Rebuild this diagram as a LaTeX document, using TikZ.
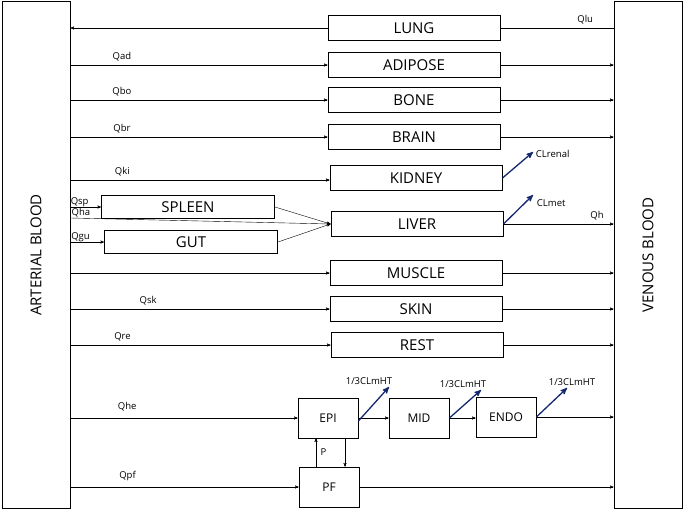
\documentclass[tikz,border=0pt]{standalone}
\usepackage{fontspec}
\setmainfont{Open Sans}
\usetikzlibrary{arrows}
\tikzstyle{blood} = [rectangle, draw=black, line width=1pt, minimum width=68pt, minimum height=506pt]
\tikzstyle{organ} = [rectangle, draw=black, line width=1pt, minimum width=172pt, minimum height=25pt, font=\fontsize{15}{15}\selectfont]
\tikzstyle{tissue} = [rectangle, draw=black, line width=0.8pt, minimum width=60pt, minimum height=40pt, font=\fontsize{12}{12}\selectfont]
\tikzstyle{flow} = [font=\fontsize{9.5}{9.5}\selectfont]
\tikzstyle{arrow} = [->,>=stealth', thin]
\tikzstyle{clear} = [->,>=stealth', line width=1.3pt, draw={rgb,255:red,20;green,40;blue,110}]
\begin{document}
\begin{tikzpicture}[x=1pt,y=-1pt]
	\useasboundingbox (0,0) rectangle (685,511);
	\node (art) [blood] at (36,255) {};
	\node [rotate=90, font=\fontsize{15}{15}\selectfont] at (36,255) {ARTERIAL BLOOD};
	\node (ven) [blood] at (648,255) {};
	\node [rotate=90, font=\fontsize{15}{15}\selectfont] at (648,255) {VENOUS BLOOD};
	\node (lung) [organ] at (414,28) {LUNG};
	\node (adipose) [organ] at (414,65) {ADIPOSE};
	\node (bone) [organ] at (414,100) {BONE};
	\node (brain) [organ] at (414,137) {BRAIN};
	\node (kidney) [organ] at (416,178) {KIDNEY};
	\node (spleen) [organ, minimum width=173pt, minimum height=23pt] at (188,207) {SPLEEN};
	\node (gut) [organ, minimum width=173pt, minimum height=23pt] at (191,242) {GUT};
	\node (liver) [organ] at (417,224) {LIVER};
	\node (muscle) [organ] at (416,273) {MUSCLE};
	\node (skin) [organ] at (416,309) {SKIN};
	\node (rest) [organ] at (417,345) {REST};
	\node (epi) [tissue] at (328,418) {EPI};
	\node (mid) [tissue] at (419,418) {MID};
	\node (endo) [tissue] at (506,417) {ENDO};
	\node (pf) [tissue] at (329,487) {PF};
	% flows
	\draw [thin] (ven.west |- lung) -- node[flow, pos=0.25, above] {Qlu} (lung.east);
	\draw [arrow] (lung.west) -- (art.east |- lung);
	\draw [arrow] (art.east |- adipose) -- node[flow, pos=0.2, above] {Qad} (adipose.west);
	\draw [arrow] (adipose.east) -- (ven.west |- adipose);
	\draw [arrow] (art.east |- bone) -- node[flow, pos=0.2, above] {Qbo} (bone.west);
	\draw [arrow] (bone.east) -- (ven.west |- bone);
	\draw [arrow] (art.east |- brain) -- node[flow, pos=0.2, above] {Qbr} (brain.west);
	\draw [arrow] (brain.east) -- (ven.west |- brain);
	\draw [arrow] (art.east |- 0,180) -- node[flow, pos=0.2, above] {Qki} (kidney.west |- 0,180);
	\draw [arrow] (art.east |- spleen) -- node[flow, pos=0.3, above, inner sep=0.5pt] {Qsp} (spleen.west);
	\draw [arrow] (art.east |- 0,218) -- node[flow, pos=0.04, above, inner sep=0.5pt] {Qha} (liver.west);
	\draw [arrow] (art.east |- gut) -- node[flow, pos=0.3, above, inner sep=0.5pt] {Qgu} (gut.west);
	\draw [arrow] (spleen.east) -- (liver.west);
	\draw [arrow] (gut.east) -- (liver.west);
	\draw [arrow] (liver.east) -- node[flow, pos=0.85, above] {Qh} (ven.west |- liver);
	\draw [arrow] (art.east |- muscle) -- (muscle.west);
	\draw [arrow] (muscle.east) -- (ven.west |- muscle);
	\draw [arrow] (art.east |- skin) -- node[flow, pos=0.3, above] {Qsk} (skin.west);
	\draw [arrow] (skin.east) -- (ven.west |- skin);
	\draw [arrow] (art.east |- rest) -- node[flow, pos=0.2, above] {Qre} (rest.west);
	\draw [arrow] (rest.east) -- (ven.west |- rest);
	\draw [arrow] (art.east |- epi) -- node[flow, pos=0.25, above, yshift=3pt] {Qhe} (epi.west);
	\draw [arrow] (epi.east) -- (mid.west);
	\draw [arrow] (mid.east) -- (endo.west |- mid.east);
	\draw [arrow] (endo.east) -- (ven.west |- endo);
	\draw [arrow] (art.east |- pf) -- node[flow, pos=0.25, above, yshift=3pt] {Qpf} (pf.west);
	\draw [arrow] (pf.east) -- (ven.west |- pf);
	\draw [arrow] ([xshift=-13pt]pf.north) -- node[flow, right, xshift=1pt] {P} ([xshift=-12pt]epi.south);
	\draw [arrow] ([xshift=17pt]epi.south) -- ([xshift=16pt]pf.north);
	% clearances
	\coordinate (crenal) at (533,152);
	\coordinate (cmet) at (533,195);
	\coordinate (cepi) at (389,387);
	\coordinate (cmid) at (481,390);
	\coordinate (cendo) at (567,388);
	\draw [clear] (kidney.east) -- (crenal) node[flow, right, xshift=-1pt, yshift=-2pt] {CLrenal};
	\draw [clear] (liver.east) -- (cmet) node[flow, right, yshift=-8pt] {CLmet};
	\draw [clear] ([yshift=-3pt]epi.east) -- (cepi) node[flow, above, xshift=-20pt, yshift=-2pt] {1/3CLmHT};
	\draw [clear] (mid.east) -- (cmid) node[flow, above, xshift=-18pt, yshift=-2pt] {1/3CLmHT};
	\draw [clear] (endo.east) -- (cendo) node[flow, above, xshift=5pt, yshift=-2pt] {1/3CLmHT};
\end{tikzpicture}
\end{document}
